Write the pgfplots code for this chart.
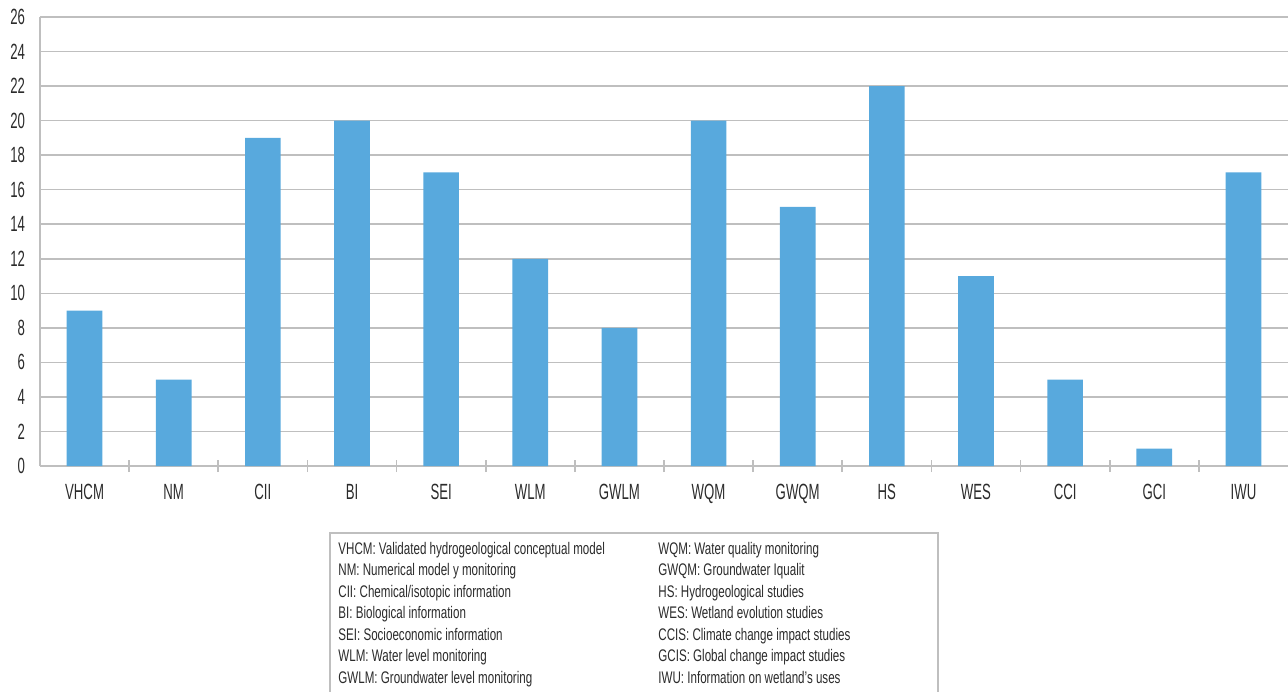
\documentclass[border=0pt]{standalone}
\usepackage{pgfplots}
\pgfplotsset{compat=1.18}
\usepackage{fontspec}
\setmainfont{Liberation Sans}[FakeStretch=0.69]
\newfontfamily\tickfont{Liberation Sans}[FakeStretch=0.6]
\definecolor{barblue}{HTML}{58A9DD}
\definecolor{gridgray}{HTML}{BFBFBF}
\definecolor{txt}{HTML}{2B2B2B}
\begin{document}
\begin{tikzpicture}[x=0.5pt,y=0.5pt]
\useasboundingbox (0,0) rectangle (1288,691);
\begin{axis}[
  at={(20pt,112.5pt)}, anchor=south west,
  scale only axis, width=624pt, height=224.5pt,
  xmin=-0.5, xmax=13.5, ymin=0, ymax=26,
  ytick={0,2,...,26},
  xtick={0,...,13},
  xticklabels={VHCM,NM,CII,BI,SEI,WLM,GWLM,WQM,GWQM,HS,WES,CCI,GCI,IWU},
  minor xtick={0.5,1.5,...,12.5},
  major tick length=0pt,
  minor tick length=6pt,
  xtick align=inside,
  tick pos=left,
  axis lines=left,
  axis line style={-, gridgray, line width=0.8pt},
  ymajorgrids, major grid style={gridgray, line width=0.8pt},
  minor tick style={gridgray, line width=0.8pt},
  ticklabel style={font=\tickfont\fontsize{11}{13}\selectfont, text=txt},
  xticklabel style={yshift=-5.5pt},
  yticklabel style={xshift=-4pt},
  /pgf/number format/assume math mode=true,
  clip=false,
]
\addplot[ybar, bar width=0.4, fill=barblue, draw=none] coordinates {
(0,9) (1,5) (2,19) (3,20) (4,17) (5,12) (6,8) (7,20) (8,15) (9,22) (10,11) (11,5) (12,1) (13,17)
};
\end{axis}
\draw[gridgray, line width=0.8pt] (330,-5) rectangle (938,158);
\begin{scope}[every node/.style={anchor=base west, inner sep=0pt, font=\fontsize{8.4}{10}\selectfont, text=txt}]
\foreach \t [count=\i from 0] in {VHCM: Validated hydrogeological conceptual model, NM: Numerical model y monitoring, CII: Chemical/isotopic information, BI: Biological information, SEI: Socioeconomic information, WLM: Water level monitoring, GWLM: Groundwater level monitoring}
  \node at (338,{137-21.5*\i}) {\t};
\foreach \t [count=\i from 0] in {WQM: Water quality monitoring, GWQM: Groundwater Iqualit, HS: Hydrogeological studies, WES: Wetland evolution studies, CCIS: Climate change impact studies, GCIS: Global change impact studies, IWU: Information on wetland's uses}
  \node at (658,{137-21.5*\i}) {\t};
\end{scope}
\end{tikzpicture}
\end{document}
